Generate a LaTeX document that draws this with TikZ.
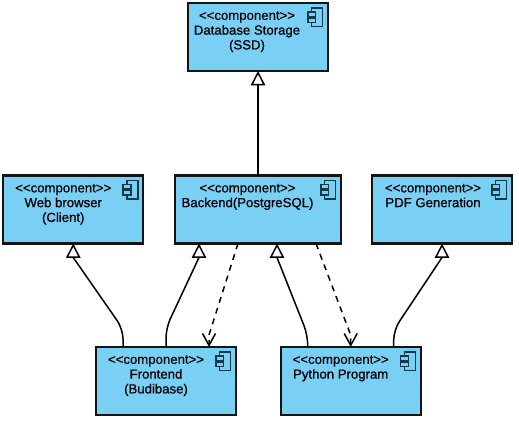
\documentclass[tikz,border=0pt]{standalone}
\usepackage{fontspec}
\usepackage{tikz}
\usetikzlibrary{calc,positioning,arrows.meta}
\newfontfamily\stereofont[FakeBold=0.3]{Liberation Sans}
\newfontfamily\namefont[FakeBold=0.8]{Liberation Sans}
\definecolor{compblue}{HTML}{7ACFF5}
\definecolor{compline}{HTML}{141414}
\definecolor{iconline}{HTML}{123A4A}
\newcommand{\stereo}{{\stereofont <<component>>}}
\tikzset{
  compbox/.style={draw=compline,fill=compblue,line width=0.045cm,minimum width=2.8cm,minimum height=1.36cm,outer sep=0pt},
  comptext/.style={align=center,inner sep=0pt,font=\fontsize{7.5pt}{8.4pt}\selectfont\namefont},
  compicon/.style={draw=iconline,fill=compblue,line width=0.03cm},
  realize/.style={line width=0.03cm,rounded corners=0.2cm,-{Triangle[open,fill=white,length=0.29cm,width=0.29cm]}},
  depend/.style={line width=0.03cm,dash pattern=on 3.4pt off 3pt,-{Straight Barb[length=0.24cm,width=0.26cm]}}
}
% the small component symbol in the corner of a box
\newcommand{\iconat}[1]{
  \draw[compicon] ($(#1)+(-16.3,-5)$) rectangle ($(#1)+(-5.3,-23.7)$);
  \draw[compicon] ($(#1)+(-20,-9)$) rectangle ($(#1)+(-12.3,-13.3)$);
  \draw[compicon] ($(#1)+(-20,-15)$) rectangle ($(#1)+(-12.3,-19.7)$);
}
\begin{document}
\begin{tikzpicture}[x=0.02cm,y=0.02cm]
\useasboundingbox (0,0) rectangle (519,420);
\node[compbox] (database) at (258,383) {};
\node[compbox] (webbrowser) at (73.25,210.5) {};
\node[compbox,minimum width=3.32cm] (backend) at (258,210.5) {};
\node[compbox] (pdfgen) at (442,210.5) {};
\node[compbox] (frontend) at (166,39) {};
\node[compbox] (python) at (350.7,39) {};
\node[comptext,below=1.6mm of database.north,xshift=-2.2mm] (databasetext) {\stereo\\Database Storage\\(SSD)};
\node[comptext,below=1.6mm of webbrowser.north,xshift=-2mm] (webbrowsertext) {\stereo\\Web browser\\(Client)};
\node[comptext,below=1.6mm of backend.north,xshift=-2.1mm] (backendtext) {\stereo\\Backend(PostgreSQL)};
\node[comptext,below=1.6mm of pdfgen.north,xshift=-1.8mm] (pdfgentext) {\stereo\\PDF Generation};
\node[comptext,below=1.6mm of frontend.north,xshift=-2mm] (frontendtext) {\stereo\\Frontend\\(Budibase)};
\node[comptext,below=1.6mm of python.north,xshift=-2mm] (pythontext) {\stereo\\Python Program};
\iconat{database.north east}
\iconat{webbrowser.north east}
\iconat{backend.north east}
\iconat{pdfgen.north east}
\iconat{frontend.north east}
\iconat{python.north east}
% the last piece of every connector is upright, so the heads stand upright
\draw[realize] (backend.north) -- (database.south);
\draw[realize] ($(frontend.north)+(-43,0)$) -- ++(0,18) [sharp corners] -- ($(webbrowser.south)+(0,-14)$) -- (webbrowser.south);
\draw[realize] (frontend.north) -- ++(0,19) [sharp corners] -- ($(backend.south)+(-59,-14)$) -- ($(backend.south)+(-59,0)$);
\draw[realize] ($(python.north)+(-43,0)$) -- ++(0,12) [sharp corners] -- ($(backend.south)+(19,-14)$) -- ($(backend.south)+(19,0)$);
\draw[realize] ($(python.north)+(43,0)$) -- ++(0,17) [sharp corners] -- ($(pdfgen.south)+(0,-14)$) -- (pdfgen.south);
\draw[depend] ($(backend.south)+(-20,0)$) -- ($(frontend.north)+(43,12)$) -- ($(frontend.north)+(43,0)$);
\draw[depend] ($(backend.south)+(58,0)$) -- ($(python.north)+(0,12)$) -- (python.north);
\end{tikzpicture}
\end{document}
